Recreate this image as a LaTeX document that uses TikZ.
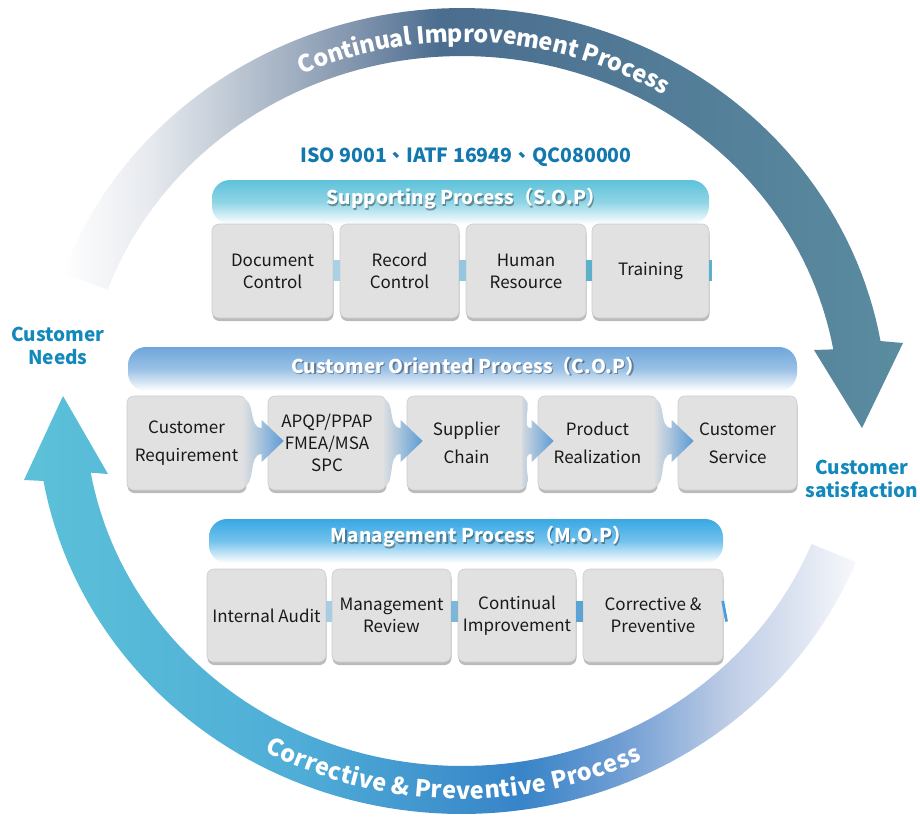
\documentclass[tikz,border=0pt]{standalone}
\usepackage{fontspec}
\setmainfont{Noto Sans CJK TC}
\usetikzlibrary{shadows,decorations.text,calc}
\definecolor{boxgray}{HTML}{E1E1E1}
\definecolor{boxline}{HTML}{CDCDCD}
\definecolor{arrblue}{HTML}{5B9BD5}
\definecolor{sopc}{HTML}{5EC2DA}
\definecolor{copc}{HTML}{6EA6DA}
\definecolor{mopc}{HTML}{38A8E4}
\definecolor{titleblue}{HTML}{1378AE}
\definecolor{sideblue}{HTML}{1389BB}
\definecolor{tbA}{HTML}{E6E9EE}
\definecolor{tbB}{HTML}{B4BFCD}
\definecolor{tbC}{HTML}{7F93AC}
\definecolor{tbD}{HTML}{4B6D8F}
\definecolor{tbE}{HTML}{5A8CA0}
\definecolor{bbA}{HTML}{5CC1D8}
\definecolor{bbB}{HTML}{4FADD7}
\definecolor{bbC}{HTML}{3784C8}
\definecolor{bbD}{HTML}{6F9DD3}
\definecolor{bbE}{HTML}{BFCDE6}
\definecolor{bbF}{HTML}{F7F8FB}
\definecolor{sc1}{HTML}{ABD0E4}
\definecolor{sc2}{HTML}{94C6DE}
\definecolor{sc3}{HTML}{5EAFC9}
\definecolor{mc1}{HTML}{A8CDE3}
\definecolor{mc2}{HTML}{7EB6DA}
\definecolor{mc3}{HTML}{5AA3D3}
\definecolor{mc4}{HTML}{4A9DDA}
\pgfdeclarehorizontalshading{topband}{100bp}{color(0bp)=(white); color(25bp)=(white); color(30.3bp)=(tbA); color(36.4bp)=(tbB); color(42.6bp)=(tbC); color(47.5bp)=(tbD); color(75bp)=(tbE); color(100bp)=(tbE)}
\pgfdeclarehorizontalshading{botband}{100bp}{color(0bp)=(bbA); color(25bp)=(bbA); color(41.5bp)=(bbB); color(54.8bp)=(bbC); color(60.8bp)=(bbD); color(67.4bp)=(bbE); color(75bp)=(bbF); color(100bp)=(bbF)}
\newcommand\bandfont{\color{white}\bfseries\fontsize{23.5}{23.5}\selectfont}
\newcommand\coparrow[2]{%
\shade[left color=boxgray, right color=arrblue]
 ($(#1.north east)+(-4,3)$) .. controls ($(#1.north east)+(10,4)$) and ($(#2.west)+(-20,-15)$) .. ($(#2.west)+(-6,-15)$)
 -- ($(#2.west)+(-6,-23)$) -- ($(#2.west)+(16,-2)$) -- ($(#2.west)+(-6,19)$) -- ($(#2.west)+(-6,11)$)
 .. controls ($(#2.west)+(-20,11)$) and ($(#1.south east)+(10,-4)$) .. ($(#1.south east)+(-4,-3)$) -- cycle;}
\begin{document}
\begin{tikzpicture}[x=1pt,y=-1pt,
  pbox/.style={draw=boxline, line width=0.6pt, fill=boxgray, rounded corners=7pt, inner sep=0pt,
    align=center, text=black!90, font=\fontsize{17}{22}\selectfont,
    drop shadow={shadow xshift=0.5pt, shadow yshift=-3pt, opacity=0.45, fill=black!60}},
  copbox/.style={pbox, font=\fontsize{17}{28}\selectfont},
  hdrtext/.style={text=white, font=\bfseries\fontsize{19}{19}\selectfont, inner sep=0pt},
  hdrshadow/.style={text=black, opacity=0.35, font=\bfseries\fontsize{19}{19}\selectfont, inner sep=0pt},
  sidelbl/.style={text=sideblue, align=center, font=\bfseries\fontsize{19}{23}\selectfont, inner sep=0pt},
  sconn/.style={line width=21pt},
]
\useasboundingbox (0,0) rectangle (920,819);
% --- circular bands
\shade[shading=topband] plot[domain=200:350,samples=90] ({462+425*cos(\x)},{411+403*sin(\x)})
  -- (903,343) -- (862,428) -- (814,350)
  -- plot[domain=350:200,samples=90] ({462+377*cos(\x)},{411+355*sin(\x)}) -- cycle;
\shade[shading=botband] plot[domain=22:170,samples=90] ({462+425*cos(\x)},{411+403*sin(\x)})
  -- (24,480) -- (63,396) -- (108,474)
  -- plot[domain=170:22,samples=90] ({462+377*cos(\x)},{411+355*sin(\x)}) -- cycle;
\path[decorate, decoration={text along path, text align=center, raise=-10pt,
  text={|\bandfont|Continual Improvement Process}}]
  plot[domain=213.6:333.6, samples=120] ({462+401*cos(\x)},{411+379*sin(\x)});
\path[decorate, decoration={text along path, text align=center, raise=-9pt,
  text={|\bandfont|Corrective {\&} Preventive Process}}]
  plot[domain=-151.4:-31.4, samples=120] ({462+401*cos(-\x)},{411+379*sin(-\x)});
% --- labels
\node[sidelbl] (needs) at (58,346) {Customer\\Needs};
\node[sidelbl] (satis) at (862,479) {Customer\\satisfaction};
\node[text=titleblue, font=\bfseries\fontsize{19.5}{19.5}\selectfont, inner sep=0pt] (iso) at (466,157) {ISO 9001、IATF 16949、QC080000};
% --- headers
\shade[top color=sopc, bottom color=white, middle color=sopc!70!white, rounded corners=18pt] (212,180) rectangle (709,224);
\shade[top color=copc, bottom color=white, middle color=copc!70!white, rounded corners=18pt] (128,347) rectangle (797,391);
\shade[top color=mopc, bottom color=white, middle color=mopc!70!white, rounded corners=18pt] (209,519) rectangle (723,563);
\node[hdrshadow] (sops) at (467.3,200.3) {Supporting Process（S.O.P）};
\node[hdrtext] (sop) at (466,199) {Supporting Process（S.O.P）};
\node[hdrshadow] (cops) at (469.3,367.3) {Customer Oriented Process（C.O.P）};
\node[hdrtext] (cop) at (468,366) {Customer Oriented Process（C.O.P）};
\node[hdrshadow] (mops) at (482.3,538.3) {Management Process（M.O.P）};
\node[hdrtext] (mop) at (481,537) {Management Process（M.O.P）};
% --- S.O.P boxes
\node[pbox, minimum width=121, minimum height=94] (s1) at (272.5,271) {Document\\Control};
\node[pbox, minimum width=119, minimum height=94] (s2) at (399.5,271) {Record\\Control};
\node[pbox, minimum width=120, minimum height=94] (s3) at (526,271) {Human\\Resource};
\node[pbox, minimum width=117, minimum height=94] (s4) at (650.5,271) {Training};
\coordinate (s4x) at (712,270);
\draw[sconn, sc1] ([yshift=1pt]s1.east) -- ([yshift=1pt]s2.west);
\draw[sconn, sc2] ([yshift=1pt]s2.east) -- ([yshift=1pt]s3.west);
\draw[sconn, sc3] ([yshift=1pt]s3.east) -- ([yshift=1pt]s4.west);
\draw[sconn, sc3] ([yshift=1pt]s4.east) -- (s4x);
% --- C.O.P boxes
\node[copbox, minimum width=119, minimum height=94] (c1) at (186.5,443) {Customer\\Requirement};
\node[pbox, minimum width=118, minimum height=94] (c2) at (327,443) {APQP/PPAP\\FMEA/MSA\\SPC};
\node[copbox, minimum width=119, minimum height=94] (c3) at (466.5,443) {Supplier\\Chain};
\node[copbox, minimum width=119, minimum height=94] (c4) at (597.5,443) {Product\\Realization};
\node[copbox, minimum width=119, minimum height=94] (c5) at (737.5,443) {Customer\\Service};
\coparrow{c1}{c2}
\coparrow{c2}{c3}
\coparrow{c3}{c4}
\coparrow{c4}{c5}
% --- M.O.P boxes
\node[pbox, minimum width=119, minimum height=93] (m1) at (266.5,615.5) {Internal Audit};
\node[pbox, minimum width=119, minimum height=93] (m2) at (391.5,615.5) {Management\\Review};
\node[pbox, minimum width=118, minimum height=93] (m3) at (517,615.5) {Continual\\Improvement};
\node[pbox, minimum width=140, minimum height=93] (m4) at (653,615.5) {Corrective \&\\Preventive};
\coordinate (m4x) at (726,611);
\draw[sconn, mc1] ([yshift=4pt]m1.east) -- ([yshift=4pt]m2.west);
\draw[sconn, mc2] ([yshift=4pt]m2.east) -- ([yshift=4pt]m3.west);
\draw[sconn, mc3] ([yshift=4pt]m3.east) -- ([yshift=4pt]m4.west);
\draw[sconn, mc4] ([yshift=4pt]m4.east) -- (m4x);
\end{tikzpicture}
\end{document}
